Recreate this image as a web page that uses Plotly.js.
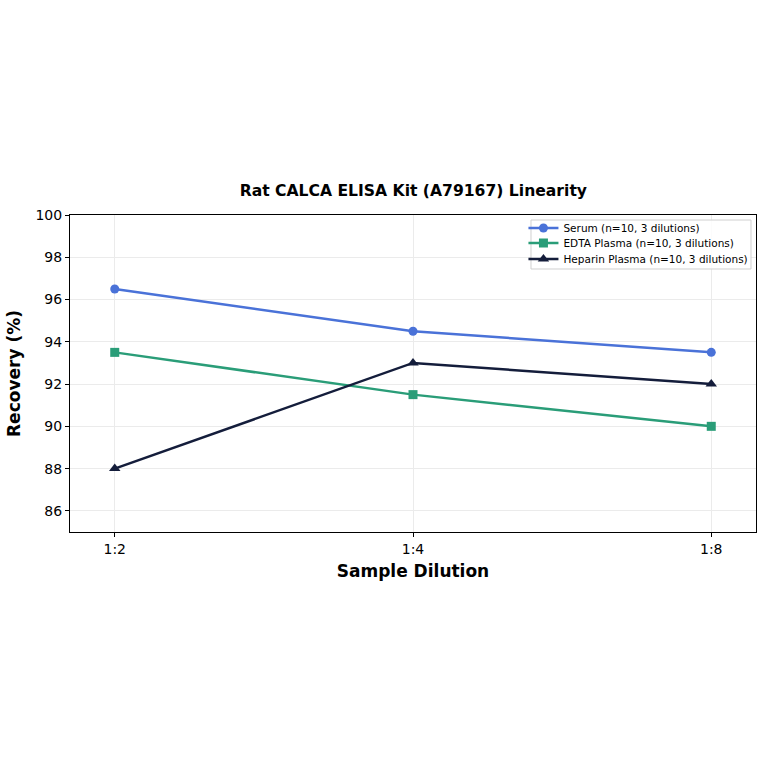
<!DOCTYPE html>
<html><head><meta charset="utf-8">
<script src="https://cdn.plot.ly/plotly-3.0.1.min.js"></script>
<style>html,body{margin:0;padding:0;background:#fff}#c{width:764px;height:764px}</style>
</head><body><div id="c"></div>
<script>
const dilutions = ["1:2", "1:4", "1:8"];
const serum = [96.5, 94.5, 93.5];
const edta = [93.5, 91.5, 90.0];
const heparin = [88.0, 93.0, 92.0];
const seriesNames = ["Serum (n=10, 3 dilutions)", "EDTA Plasma (n=10, 3 dilutions)", "Heparin Plasma (n=10, 3 dilutions)"];
const yTicks = [86, 88, 90, 92, 94, 96, 98, 100];

const xi = dilutions.map((d, i) => i);
function tr(y, name, color, symbol, size, leg) {
  return {x: xi, y: y, name: name, type: 'scatter', mode: 'lines+markers', legend: leg,
    line: {color: color, width: 2.5},
    marker: {color: color, symbol: symbol, size: size}};
}
const data = [
  tr(serum, seriesNames[0], '#4a72d8', 'circle', 9, 'legend'),
  tr(edta, seriesNames[1], '#2a9d78', 'square', 9, 'legend2'),
  tr(heparin, seriesNames[2], '#141d3b', 'triangle-up', 10, 'legend3')
];
function leg(y) {
  return {x: 0.661, y: y, xanchor: 'left', yanchor: 'middle',
    bgcolor: 'rgba(0,0,0,0)', borderwidth: 0,
    font: {size: 10.5, family: 'DejaVu Sans'}, itemwidth: 30};
}
const layout = {
  width: 764, height: 764,
  margin: {l: 70, r: 8, t: 215, b: 232},
  paper_bgcolor: '#fff', plot_bgcolor: '#fff',
  font: {family: 'DejaVu Sans', color: '#000'},
  title: {text: '<b>Rat CALCA ELISA Kit (A79167) Linearity</b>', font: {size: 15.6, family: 'DejaVu Sans'}, x: 0.541, xanchor: 'center', y: 1 - 191/764, yanchor: 'middle'},
  xaxis: {
    range: [-0.15, 2.15], tickmode: 'array', tickvals: xi, ticktext: dilutions,
    showline: true, linecolor: '#000', linewidth: 1, mirror: true,
    ticks: 'outside', ticklen: 4, tickcolor: '#000',
    showgrid: true, gridcolor: '#ebebeb', gridwidth: 1, zeroline: false,
    tickfont: {size: 14},
    title: {text: '<b>Sample Dilution</b>', font: {size: 17}, standoff: 9}
  },
  yaxis: {
    range: [85, 100], tickmode: 'array', tickvals: yTicks,
    showline: true, linecolor: '#000', linewidth: 1, mirror: true,
    ticks: 'outside', ticklen: 4, tickcolor: '#000',
    showgrid: true, gridcolor: '#ebebeb', gridwidth: 1, zeroline: false,
    tickfont: {size: 14},
    title: {text: '<b>Recovery (%)</b>', font: {size: 17}, standoff: 10}
  },
  shapes: [{type: 'rect', xref: 'paper', yref: 'paper', layer: 'above',
    x0: 0.672, x1: 0.9927, y0: 0.8297, y1: 0.9842,
    fillcolor: 'rgba(255,255,255,0.85)', line: {color: '#d0d0d0', width: 1}}],
  legend: leg(0.959),
  legend2: leg(0.9117),
  legend3: leg(0.8612),
  showlegend: true
};
Plotly.newPlot('c', data, layout, {displayModeBar: false, staticPlot: true});
</script></body></html>
